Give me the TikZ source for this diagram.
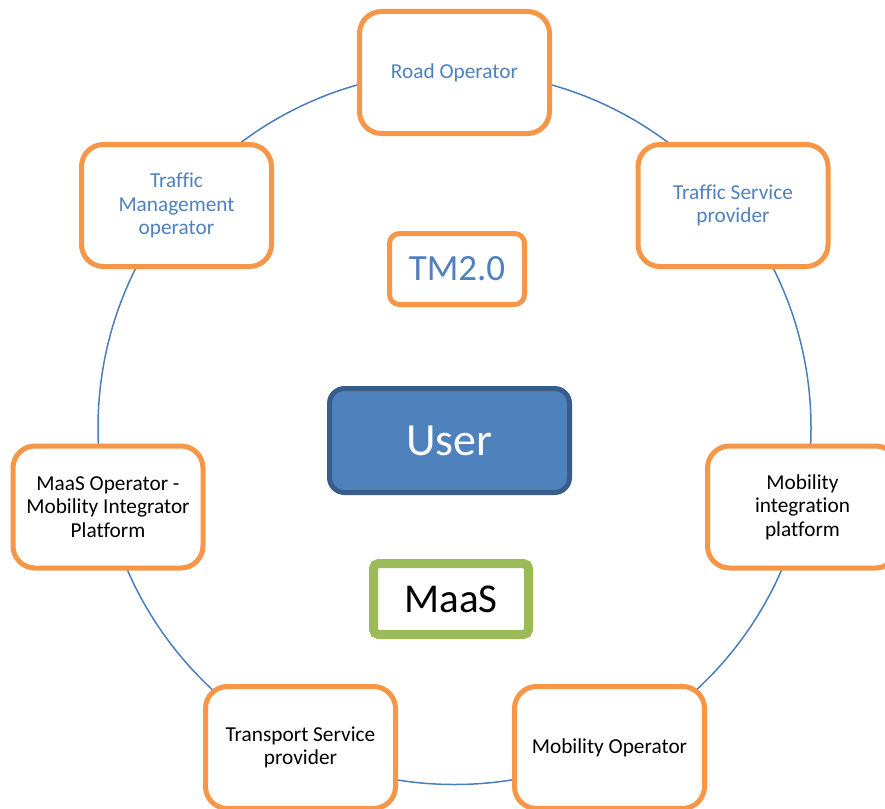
\documentclass[tikz,border=0pt]{standalone}
\usepackage{fontspec}
\setmainfont{Carlito}[Ligatures=CommonOff]
\definecolor{orng}{HTML}{F79646}
\definecolor{ringblue}{HTML}{4A7EBB}
\definecolor{txtblue}{HTML}{4F81BD}
\definecolor{userfill}{HTML}{4F81BD}
\definecolor{userdraw}{HTML}{385D8A}
\definecolor{maasgreen}{HTML}{9BBB59}
\begin{document}
\begin{tikzpicture}[x=1pt,y=-1pt,
  role/.style={draw=orng, line width=5pt, fill=white, rounded corners=22pt,
    minimum width=190pt, minimum height=122pt, align=center,
    font=\fontsize{21.3}{23.5}\selectfont, inner sep=0pt},
  bluetext/.style={text=txtblue},
  blacktext/.style={text=black}]
\useasboundingbox (0,0) rectangle (885,808);
\clip (0,0) rectangle (885,808);
\fill[white] (0,0) rectangle (885,808);
\coordinate (ringc) at (454.5,428);
\draw[ringblue, line width=1.5pt] (ringc) circle (356.5);
\node[role, bluetext] (road) at (454.5,72.5) {Road Operator};
\node[role, bluetext] (tmo) at (176.5,205.5) {Traffic\\Management\\operator};
\node[role, bluetext] (tsp) at (733,205.5) {Traffic Service\\provider};
\node[role, blacktext] (maasop) at (108,507) {MaaS Operator -\\Mobility Integrator\\Platform};
\node[role, blacktext] (mip) at (802.5,507) {Mobility\\integration\\platform};
\node[role, blacktext] (trsp) at (300.5,747.5) {Transport Service\\provider};
\node[role, blacktext] (mobop) at (609.5,747.5) {Mobility Operator};
\node[draw=orng, line width=5pt, fill=white, rounded corners=10pt,
  minimum width=135pt, minimum height=71pt, inner sep=0pt, text=txtblue,
  font=\fontsize{37}{40}\selectfont] (tm) at (457,269) {TM2.0};
\node[draw=userdraw, fill=userfill, line width=5pt, rounded corners=15pt,
  minimum width=240pt, minimum height=104pt, inner sep=0pt, text=white,
  font=\fontsize{46}{48}\selectfont] (user) at (449.5,440.5) {User};
\node[draw=maasgreen, fill=white, line width=9pt, rounded corners=5pt,
  minimum width=155pt, minimum height=71pt, inner sep=0pt, text=black,
  font=\fontsize{41}{44}\selectfont] (maas) at (451,599) {MaaS};
\end{tikzpicture}
\end{document}
